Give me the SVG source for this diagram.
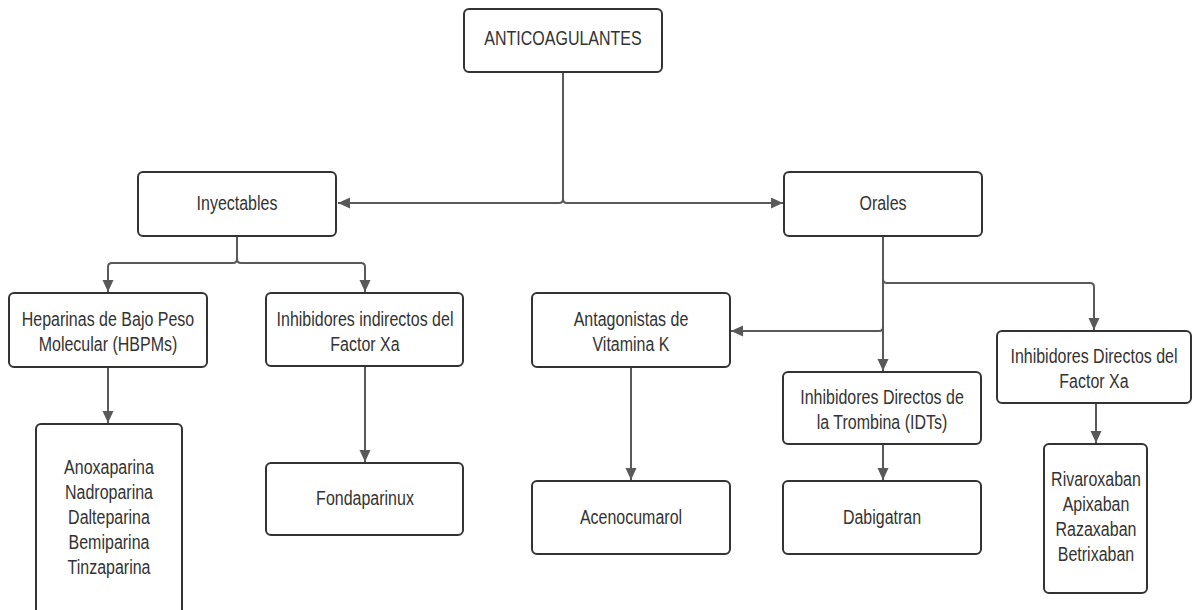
<svg xmlns="http://www.w3.org/2000/svg" width="1192" height="610" viewBox="0 0 1192 610">
<style>
.box{fill:#fff;stroke:#333;stroke-width:2}
.t{font-family:"Liberation Sans",Arial,sans-serif;font-size:16px;fill:#333;text-anchor:middle}
.c{fill:none;stroke:#595959;stroke-width:2}
</style>
<defs>
<marker id="arr" markerUnits="userSpaceOnUse" markerWidth="13" markerHeight="12" refX="12" refY="5.5" orient="auto">
<path d="M0,0 L12,5.5 L0,11 z" fill="#595959"/>
</marker>
</defs>
<rect width="1192" height="610" fill="#fff"/>
<g id="connectors">
<path class="c" d="M563,72 V199 Q563,203 559,203 H338" marker-end="url(#arr)"/>
<path class="c" d="M563,72 V199 Q563,203 567,203 H783" marker-end="url(#arr)"/>
<path class="c" d="M237,236 V259 Q237,263 233,263 H112 Q108,263 108,267 V292" marker-end="url(#arr)"/>
<path class="c" d="M237,236 V259 Q237,263 241,263 H361 Q365,263 365,267 V292" marker-end="url(#arr)"/>
<path class="c" d="M108,367 V423" marker-end="url(#arr)"/>
<path class="c" d="M365,366 V462" marker-end="url(#arr)"/>
<path class="c" d="M883,236 V327 Q883,331 879,331 H731" marker-end="url(#arr)"/>
<path class="c" d="M883,236 V371" marker-end="url(#arr)"/>
<path class="c" d="M883,236 V279 Q883,283 887,283 H1090 Q1094,283 1094,287 V330" marker-end="url(#arr)"/>
<path class="c" d="M631,367 V480" marker-end="url(#arr)"/>
<path class="c" d="M883,444 V480" marker-end="url(#arr)"/>
<path class="c" d="M1096,403 V443" marker-end="url(#arr)"/>
</g>
<g id="anticoagulantes">
<rect class="box" x="464" y="9" width="198" height="63" rx="5"/>
<text class="t" transform="translate(563,45) scale(1,1.3)">ANTICOAGULANTES</text>
</g>
<g id="inyectables">
<rect class="box" x="138" y="172" width="198" height="64" rx="5"/>
<text class="t" transform="translate(237,210) scale(1,1.3)">Inyectables</text>
</g>
<g id="orales">
<rect class="box" x="784" y="172" width="198" height="64" rx="5"/>
<text class="t" transform="translate(883,210) scale(1,1.3)">Orales</text>
</g>
<g id="hbpm">
<rect class="box" x="9" y="293" width="198" height="74" rx="5"/>
<text class="t" transform="translate(108,326) scale(1,1.3)"><tspan x="0" y="0">Heparinas de Bajo Peso</tspan><tspan x="0" dy="19.23">Molecular (HBPMs)</tspan></text>
</g>
<g id="inhib-indirectos">
<rect class="box" x="266" y="293" width="197" height="73" rx="5"/>
<text class="t" transform="translate(365,326) scale(1,1.3)"><tspan x="0" y="0">Inhibidores indirectos del</tspan><tspan x="0" dy="19.23">Factor Xa</tspan></text>
</g>
<g id="vitamina-k">
<rect class="box" x="532" y="293" width="198" height="74" rx="5"/>
<text class="t" transform="translate(631,326) scale(1,1.3)"><tspan x="0" y="0">Antagonistas de</tspan><tspan x="0" dy="19.23">Vitamina K</tspan></text>
</g>
<g id="idts">
<rect class="box" x="783" y="372" width="198" height="72" rx="5"/>
<text class="t" transform="translate(882,404) scale(1,1.3)"><tspan x="0" y="0">Inhibidores Directos de</tspan><tspan x="0" dy="19.23">la Trombina (IDTs)</tspan></text>
</g>
<g id="inhib-directos-xa">
<rect class="box" x="997" y="331" width="194" height="72" rx="5"/>
<text class="t" transform="translate(1094,363) scale(1,1.3)"><tspan x="0" y="0">Inhibidores Directos del</tspan><tspan x="0" dy="19.23">Factor Xa</tspan></text>
</g>
<g id="heparinas-lista">
<rect class="box" x="36" y="424" width="146" height="200" rx="5"/>
<text class="t" transform="translate(109,474) scale(1,1.3)"><tspan x="0" y="0">Anoxaparina</tspan><tspan x="0" dy="19.23">Nadroparina</tspan><tspan x="0" dy="19.23">Dalteparina</tspan><tspan x="0" dy="19.23">Bemiparina</tspan><tspan x="0" dy="19.23">Tinzaparina</tspan></text>
</g>
<g id="fondaparinux">
<rect class="box" x="266" y="463" width="197" height="72" rx="5"/>
<text class="t" transform="translate(365,505) scale(1,1.3)">Fondaparinux</text>
</g>
<g id="acenocumarol">
<rect class="box" x="532" y="481" width="198" height="73" rx="5"/>
<text class="t" transform="translate(631,524) scale(1,1.3)">Acenocumarol</text>
</g>
<g id="dabigatran">
<rect class="box" x="783" y="481" width="198" height="73" rx="5"/>
<text class="t" transform="translate(882,524) scale(1,1.3)">Dabigatran</text>
</g>
<g id="xabanes">
<rect class="box" x="1044" y="444" width="103" height="149" rx="5"/>
<text class="t" transform="translate(1096,486) scale(1,1.3)"><tspan x="0" y="0">Rivaroxaban</tspan><tspan x="0" dy="19.23">Apixaban</tspan><tspan x="0" dy="19.23">Razaxaban</tspan><tspan x="0" dy="19.23">Betrixaban</tspan></text>
</g>
</svg>
